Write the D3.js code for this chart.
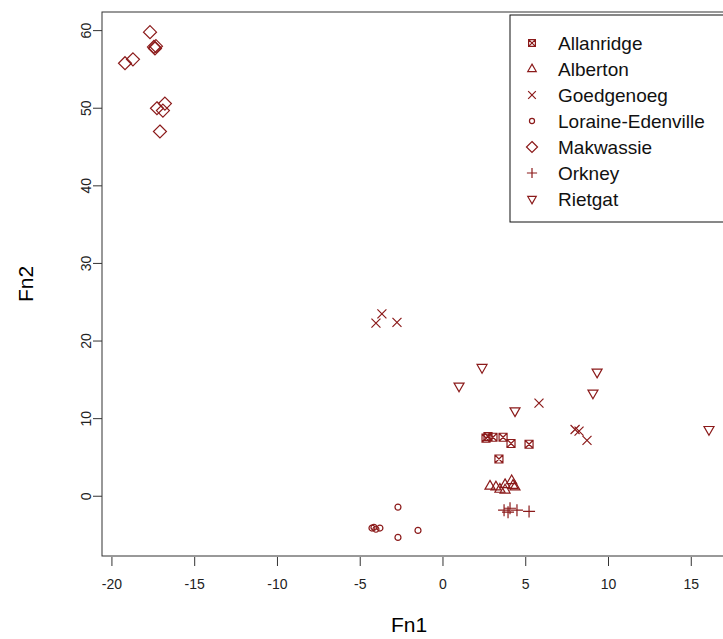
<!DOCTYPE html>
<html>
<head>
<meta charset="utf-8">
<script src="https://cdn.jsdelivr.net/npm/d3@7"></script>
<style>
  body { margin: 0; background: #fff; }
  svg { display: block; font-family: 'Liberation Sans', Arial, sans-serif; }
</style>
</head>
<body>
<svg id="chart" width="723" height="639"></svg>
<script>
// group names, in legend order
const groups = ['Allanridge', 'Alberton', 'Goedgenoeg', 'Loraine-Edenville', 'Makwassie', 'Orkney', 'Rietgat']
// [Fn1, Fn2]
const allanridge = [[2.60, 7.5], [2.72, 7.7], [3.02, 7.6], [3.63, 7.6], [4.11, 6.8], [5.20, 6.7], [3.38, 4.8]]
const alberton = [[2.84, 1.3], [3.20, 1.2], [3.44, 0.9], [3.75, 1.5], [3.75, 0.8], [4.15, 2.0], [4.23, 1.4], [4.35, 1.2]]
const goedgenoeg = [[-3.69, 23.5], [-4.05, 22.3], [-2.78, 22.4], [5.80, 12.0], [7.98, 8.6], [8.22, 8.4], [8.70, 7.2]]
const loraine = [[-2.72, -1.4], [-4.29, -4.1], [-4.17, -4.0], [-4.05, -4.25], [-3.81, -4.1], [-2.72, -5.3], [-1.51, -4.4]]
const makwassie = [[-17.70, 59.8], [-17.46, 57.9], [-17.34, 58.0], [-17.40, 57.7], [-19.21, 55.8], [-18.73, 56.3],
  [-17.28, 50.0], [-16.80, 50.6], [-16.92, 49.7], [-17.10, 47.0]]
const orkney = [[3.69, -1.8], [4.05, -1.55], [4.47, -1.8], [5.20, -1.95], [3.93, -2.05]]
const rietgat = [[2.36, 16.6], [0.97, 14.2], [4.35, 11.0], [9.31, 16.0], [9.06, 13.3], [16.07, 8.6]]
const xTicks = [-20, -15, -10, -5, 0, 5, 10, 15]
const yTicks = [0, 10, 20, 30, 40, 50, 60]

const series = [allanridge, alberton, goedgenoeg, loraine, makwassie, orkney, rietgat]
const col = '#8b1a1a'

// symbol paths (R pch 7, 2, 4, 1, 5, 3, 6)
const shapes = [
  s => `M${-s},${-s}H${s}V${s}H${-s}Z M${-s},${-s}L${s},${s} M${s},${-s}L${-s},${s}`,
  s => `M0,${-s * 1.15}L${s},${s * 0.6}H${-s}Z`,
  s => `M${-s},${-s}L${s},${s} M${s},${-s}L${-s},${s}`,
  s => `M${s},0A${s},${s} 0 1,1 ${-s},0A${s},${s} 0 1,1 ${s},0Z`,
  s => `M0,${-s}L${s},0L0,${s}L${-s},0Z`,
  s => `M${-s},0H${s} M0,${-s}V${s}`,
  s => `M0,${s * 1.15}L${s},${-s * 0.6}H${-s}Z`
]
const sizes = [4, 5, 4.5, 3, 6.5, 6, 5]

const svg = d3.select('#chart')
const x = d3.scaleLinear().domain([-20.6, 17.4]).range([102, 731])
const y = d3.scaleLinear().domain([-7.7, 62.4]).range([556, 12])

// plot box
svg.append('rect')
  .attr('x', x.range()[0]).attr('y', y.range()[1])
  .attr('width', x.range()[1] - x.range()[0]).attr('height', y.range()[0] - y.range()[1])
  .attr('fill', 'none').attr('stroke', '#333').attr('stroke-width', 1)

// x axis
const xa = svg.append('g')
xa.selectAll('line').data(xTicks).join('line')
  .attr('x1', d => x(d)).attr('x2', d => x(d))
  .attr('y1', 557).attr('y2', 566)
  .attr('stroke', '#333')
xa.selectAll('text').data(xTicks).join('text')
  .attr('x', d => x(d)).attr('y', 589)
  .attr('text-anchor', 'middle')
  .attr('font-size', 14)
  .attr('fill', '#222')
  .text(d => d)

// y axis
const ya = svg.append('g')
ya.selectAll('line').data(yTicks).join('line')
  .attr('x1', 93).attr('x2', 102)
  .attr('y1', d => y(d)).attr('y2', d => y(d))
  .attr('stroke', '#333')
ya.selectAll('text').data(yTicks).join('text')
  .attr('transform', d => `translate(91,${y(d)}) rotate(-90)`)
  .attr('text-anchor', 'middle')
  .attr('font-size', 14)
  .attr('fill', '#222')
  .text(d => d)

// axis titles
svg.append('text').attr('x', 409).attr('y', 632)
  .attr('text-anchor', 'middle').attr('font-size', 21).text('Fn1')
svg.append('text').attr('transform', 'translate(33,284) rotate(-90)')
  .attr('text-anchor', 'middle').attr('font-size', 21).text('Fn2')

// points
series.forEach((pts, i) => {
  svg.append('g').selectAll('path').data(pts).join('path')
    .attr('transform', d => `translate(${x(d[0])},${y(d[1])})`)
    .attr('d', shapes[i](sizes[i]))
    .attr('fill', 'none')
    .attr('stroke', col)
    .attr('stroke-width', 1.2)
})

// legend
const lg = svg.append('g')
lg.append('rect').attr('x', 510).attr('y', 15).attr('width', 230).attr('height', 207)
  .attr('fill', '#fff').attr('stroke', '#111')
const item = lg.selectAll('g.item').data(groups).join('g')
  .attr('class', 'item')
  .attr('transform', (d, i) => `translate(532,${43 + i * 26})`)
item.append('path')
  .attr('d', (d, i) => shapes[i](sizes[i] * 0.85))
  .attr('fill', 'none').attr('stroke', col).attr('stroke-width', 1.2)
item.append('text')
  .attr('x', 26).attr('y', 6.5)
  .attr('font-size', 19)
  .attr('fill', '#111')
  .text(d => d)
</script>
</body>
</html>
